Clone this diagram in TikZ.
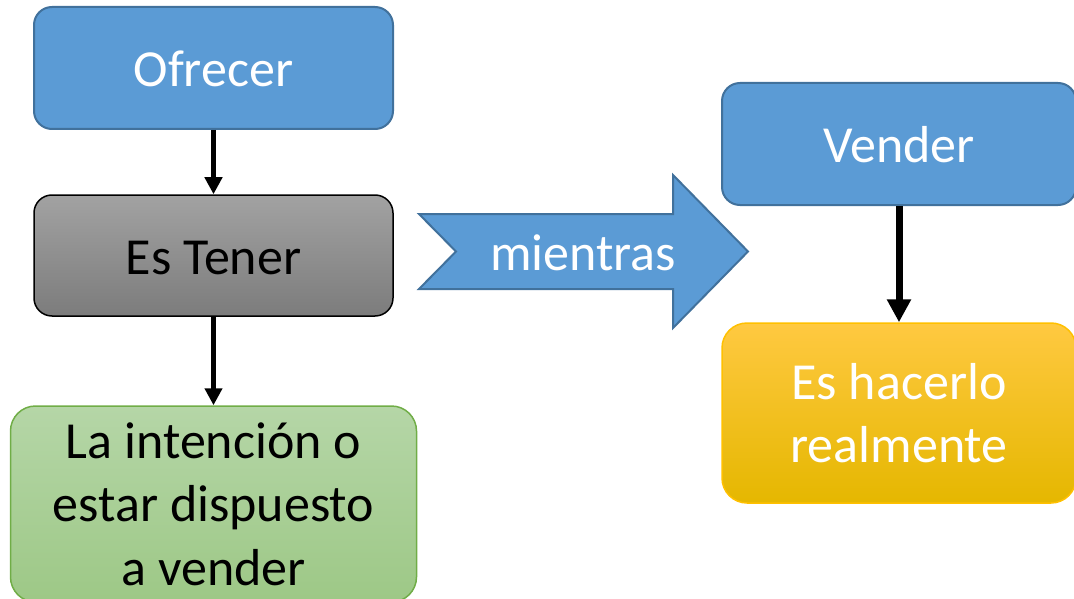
\documentclass[tikz,border=0pt]{standalone}
\usepackage{fontspec}
\setmainfont{Carlito}
\usetikzlibrary{arrows.meta,calc}
\definecolor{bluefill}{HTML}{5B9BD5}
\definecolor{blueline}{HTML}{41719C}
\definecolor{graytop}{HTML}{A2A2A2}
\definecolor{graybot}{HTML}{7C7C7C}
\definecolor{greentop}{HTML}{B5D6A7}
\definecolor{greenbot}{HTML}{9DC886}
\definecolor{greenline}{HTML}{70AD47}
\definecolor{yeltop}{HTML}{FFC941}
\definecolor{yelmid}{HTML}{FFC000}
\definecolor{yelbot}{HTML}{E5B700}
\tikzset{
  bigtext/.style={font=\fontsize{52}{63.5}\selectfont},
  bluebox/.style={draw=blueline, line width=2pt, fill=bluefill, rounded corners=18pt,
    text=white, bigtext, text height=37pt, text depth=0pt, inner sep=0pt},
  graybox/.style={draw=black, line width=1.5pt, top color=graytop, bottom color=graybot,
    rounded corners=18pt, text=black, bigtext, text height=37pt, text depth=0pt, inner sep=0pt},
  greenbox/.style={draw=greenline, line width=1.5pt, top color=greentop, bottom color=greenbot,
    rounded corners=25pt, text=black, bigtext, align=center, inner sep=0pt},
  yelbox/.style={draw=yelmid, line width=1.5pt, top color=yeltop, middle color=yelmid, bottom color=yelbot,
    rounded corners=25pt, text=white, bigtext, align=center, inner sep=0pt},
  thinarrow/.style={line width=5pt, -{Triangle[width=17pt,length=17pt]}},
  thickarrow/.style={line width=7pt, -{Triangle[width=23pt,length=23pt]}},
}
\begin{document}
\begin{tikzpicture}[x=1pt,y=-1pt]
\useasboundingbox (0,0) rectangle (1074,599);
\node[bluebox, minimum width=359pt, minimum height=122pt] (ofrecer) at (213.5,68) {Ofrecer};
\node[graybox, minimum width=359pt, minimum height=121pt] (tener) at (213.5,255.5) {Es Tener};
\node[greenbox, minimum width=406pt, minimum height=196pt] (intencion) at (213.5,504) {La intención o\\estar dispuesto\\a vender};
\node[bluebox, minimum width=354pt, minimum height=122pt] (vender) at (899,144) {Vender};
\node[yelbox, minimum width=354pt, minimum height=180pt] (hacer) at (899,413) {Es hacerlo\\realmente};
\draw[blueline, line width=2pt, fill=bluefill]
  (419,214) -- (673,214) -- (673,175) -- (748,251.5) -- (673,328) -- (673,289) -- (419,289) -- (456,251.5) -- cycle;
\node[anchor=base, text=white, bigtext] (mientras) at (583,270) {mientras};
\draw[thinarrow] (ofrecer.south) -- (tener.north);
\draw[thinarrow] (tener.south) -- (intencion.north);
\draw[thickarrow] (vender.south) -- (hacer.north);
\end{tikzpicture}
\end{document}
